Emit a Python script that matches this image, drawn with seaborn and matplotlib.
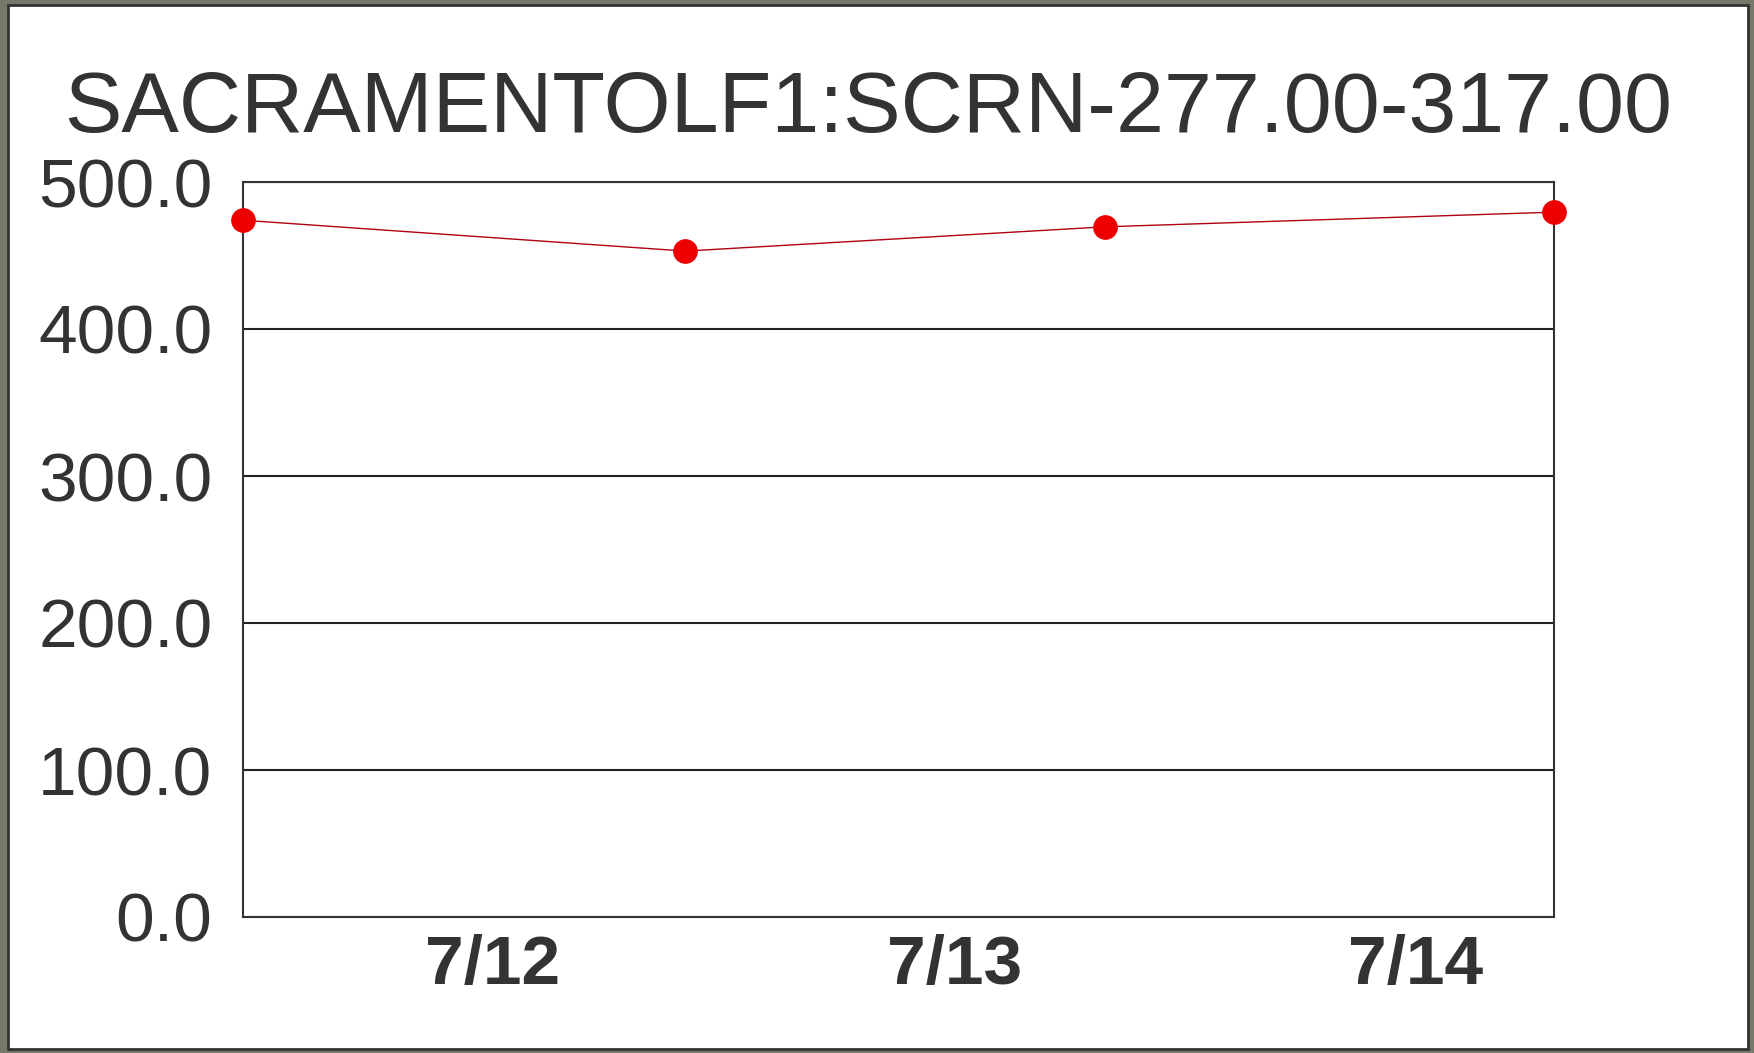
import matplotlib
matplotlib.use("Agg")
import matplotlib.pyplot as plt
from matplotlib.patches import Rectangle
import seaborn as sns
import pandas as pd

title = "SACRAMENTOLF1:SCRN-277.00-317.00"
times = ["2013-07-11 11:00", "2013-07-12 10:00", "2013-07-13 07:50", "2013-07-14 07:12"]
values = [474.0, 453.0, 469.5, 479.5]
yticks = [0, 100, 200, 300, 400, 500]
xtick_dates = ["2013-07-12", "2013-07-13", "2013-07-14"]
xtick_labels = ["7/12", "7/13", "7/14"]

df = pd.DataFrame({"time": pd.to_datetime(times), "value": values})

sns.set_theme(style="white")
plt.rcParams["font.family"] = ["Liberation Sans", "DejaVu Sans"]

fig = plt.figure(figsize=(17.54, 10.53), dpi=100, facecolor="#77776a")
fig.patches.append(Rectangle((8/1754, 4/1053), 1740/1754, 1044/1053, transform=fig.transFigure,
                             facecolor="white", edgecolor="#333333", linewidth=2, zorder=-10))
ax = fig.add_axes([243/1754, 1 - 917/1053, (1554 - 243)/1754, (917 - 182)/1053])
ax.set_zorder(5)
ax.set_facecolor("white")

sns.lineplot(data=df, x="time", y="value", ax=ax, color="#b00010", linewidth=1.0,
             marker="o", markersize=17, markerfacecolor="#ee0000", markeredgecolor="#ee0000",
             clip_on=False, zorder=5)

ax.set_xlim(df["time"].min(), df["time"].max())
ax.set_ylim(0, 500)
ax.set_yticks(yticks)
ax.set_yticklabels([f"{v:.1f}" for v in yticks], fontsize=50, color="#333333")
ax.set_xticks(pd.to_datetime(xtick_dates))
ax.set_xticklabels(xtick_labels, fontsize=50, fontweight="bold", color="#333333")
ax.tick_params(axis="x", direction="in", length=11, width=1, color="#333333", pad=12)
ax.tick_params(axis="y", length=0, pad=22)
ax.grid(axis="y", color="#222222", linewidth=1.5)
ax.grid(axis="x", visible=False)
for s in ax.spines.values():
    s.set_visible(True)
    s.set_color("#333333")
    s.set_linewidth(1.5)
ax.set_xlabel("")
ax.set_ylabel("")

fig.text(0.495, 1 - 132/1053, title, ha="center", va="baseline", fontsize=62, color="#333333")

fig.savefig("out.png", dpi=100, facecolor=fig.get_facecolor())
